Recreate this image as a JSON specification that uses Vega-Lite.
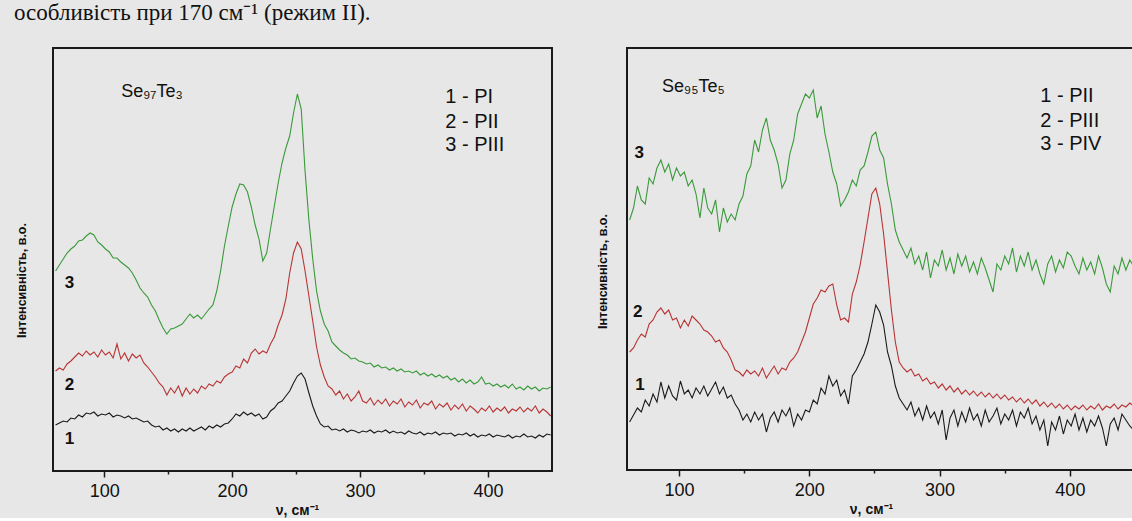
{
"$schema": "https://vega.github.io/schema/vega-lite/v6.json",
"background": "#e7e7e7",
"padding": {"left": 14, "top": 2, "right": 0, "bottom": 0},
"title": {"text": "особливість при 170 см⁻¹ (режим II).", "anchor": "start", "font": "Liberation Serif", "fontSize": 23, "fontWeight": "normal", "color": "#111111", "dx": 0, "offset": 22},
"spacing": 41,
"config": {"view": {"stroke": "#1a1a1a", "strokeWidth": 2}},
"datasets": {
"a": [
{"x":62,"y":46,"s":"1"},{"x":65,"y":48,"s":"1"},{"x":68,"y":50,"s":"1"},{"x":71,"y":49,"s":"1"},{"x":74,"y":53,"s":"1"},{"x":77,"y":52,"s":"1"},{"x":80,"y":56,"s":"1"},{"x":83,"y":54,"s":"1"},{"x":86,"y":58,"s":"1"},{"x":89,"y":57,"s":"1"},{"x":92,"y":59,"s":"1"},{"x":95,"y":55,"s":"1"},{"x":98,"y":57,"s":"1"},{"x":101,"y":56,"s":"1"},{"x":104,"y":58,"s":"1"},{"x":107,"y":54,"s":"1"},{"x":110,"y":56,"s":"1"},{"x":113,"y":55,"s":"1"},{"x":116,"y":53,"s":"1"},{"x":119,"y":55,"s":"1"},{"x":122,"y":52,"s":"1"},{"x":125,"y":53,"s":"1"},{"x":128,"y":51,"s":"1"},{"x":131,"y":49,"s":"1"},{"x":134,"y":50,"s":"1"},{"x":137,"y":46,"s":"1"},{"x":140,"y":44,"s":"1"},{"x":143,"y":45,"s":"1"},{"x":146,"y":41,"s":"1"},{"x":149,"y":43,"s":"1"},{"x":152,"y":40,"s":"1"},{"x":155,"y":42,"s":"1"},{"x":158,"y":39,"s":"1"},{"x":161,"y":42,"s":"1"},{"x":164,"y":40,"s":"1"},{"x":167,"y":43,"s":"1"},{"x":170,"y":40,"s":"1"},{"x":173,"y":42,"s":"1"},{"x":176,"y":44,"s":"1"},{"x":179,"y":41,"s":"1"},{"x":182,"y":45,"s":"1"},{"x":185,"y":43,"s":"1"},{"x":188,"y":46,"s":"1"},{"x":191,"y":44,"s":"1"},{"x":194,"y":47,"s":"1"},{"x":197,"y":48,"s":"1"},{"x":200,"y":52,"s":"1"},{"x":203,"y":57,"s":"1"},{"x":206,"y":55,"s":"1"},{"x":209,"y":59,"s":"1"},{"x":212,"y":56,"s":"1"},{"x":215,"y":58,"s":"1"},{"x":218,"y":55,"s":"1"},{"x":221,"y":57,"s":"1"},{"x":224,"y":52,"s":"1"},{"x":227,"y":54,"s":"1"},{"x":230,"y":60,"s":"1"},{"x":233,"y":63,"s":"1"},{"x":236,"y":68,"s":"1"},{"x":239,"y":70,"s":"1"},{"x":242,"y":75,"s":"1"},{"x":245,"y":80,"s":"1"},{"x":248,"y":88,"s":"1"},{"x":251,"y":95,"s":"1"},{"x":254,"y":98,"s":"1"},{"x":257,"y":92,"s":"1"},{"x":260,"y":78,"s":"1"},{"x":263,"y":65,"s":"1"},{"x":266,"y":55,"s":"1"},{"x":269,"y":47,"s":"1"},{"x":272,"y":44,"s":"1"},{"x":275,"y":45,"s":"1"},{"x":278,"y":41,"s":"1"},{"x":281,"y":42,"s":"1"},{"x":284,"y":40,"s":"1"},{"x":287,"y":42,"s":"1"},{"x":290,"y":39,"s":"1"},{"x":293,"y":41,"s":"1"},{"x":296,"y":40,"s":"1"},{"x":299,"y":38,"s":"1"},{"x":302,"y":40,"s":"1"},{"x":305,"y":39,"s":"1"},{"x":308,"y":41,"s":"1"},{"x":311,"y":38,"s":"1"},{"x":314,"y":40,"s":"1"},{"x":317,"y":39,"s":"1"},{"x":320,"y":41,"s":"1"},{"x":323,"y":38,"s":"1"},{"x":326,"y":40,"s":"1"},{"x":329,"y":38,"s":"1"},{"x":332,"y":39,"s":"1"},{"x":335,"y":37,"s":"1"},{"x":338,"y":40,"s":"1"},{"x":341,"y":38,"s":"1"},{"x":344,"y":37,"s":"1"},{"x":347,"y":39,"s":"1"},{"x":350,"y":36,"s":"1"},{"x":353,"y":38,"s":"1"},{"x":356,"y":37,"s":"1"},{"x":359,"y":39,"s":"1"},{"x":362,"y":36,"s":"1"},{"x":365,"y":38,"s":"1"},{"x":368,"y":37,"s":"1"},{"x":371,"y":38,"s":"1"},{"x":374,"y":35,"s":"1"},{"x":377,"y":37,"s":"1"},{"x":380,"y":36,"s":"1"},{"x":383,"y":38,"s":"1"},{"x":386,"y":35,"s":"1"},{"x":389,"y":37,"s":"1"},{"x":392,"y":34,"s":"1"},{"x":395,"y":36,"s":"1"},{"x":398,"y":35,"s":"1"},{"x":401,"y":37,"s":"1"},{"x":404,"y":34,"s":"1"},{"x":407,"y":36,"s":"1"},{"x":410,"y":35,"s":"1"},{"x":413,"y":34,"s":"1"},{"x":416,"y":36,"s":"1"},{"x":419,"y":33,"s":"1"},{"x":422,"y":35,"s":"1"},{"x":425,"y":34,"s":"1"},{"x":428,"y":37,"s":"1"},{"x":431,"y":34,"s":"1"},{"x":434,"y":35,"s":"1"},{"x":437,"y":33,"s":"1"},{"x":440,"y":36,"s":"1"},{"x":443,"y":34,"s":"1"},{"x":446,"y":37,"s":"1"},{"x":449,"y":36,"s":"1"},
{"x":62,"y":100,"s":"2"},{"x":65,"y":103,"s":"2"},{"x":68,"y":101,"s":"2"},{"x":71,"y":107,"s":"2"},{"x":74,"y":110,"s":"2"},{"x":77,"y":114,"s":"2"},{"x":80,"y":118,"s":"2"},{"x":83,"y":115,"s":"2"},{"x":86,"y":120,"s":"2"},{"x":89,"y":116,"s":"2"},{"x":92,"y":119,"s":"2"},{"x":95,"y":114,"s":"2"},{"x":98,"y":121,"s":"2"},{"x":101,"y":116,"s":"2"},{"x":104,"y":119,"s":"2"},{"x":107,"y":113,"s":"2"},{"x":110,"y":127,"s":"2"},{"x":113,"y":112,"s":"2"},{"x":116,"y":118,"s":"2"},{"x":119,"y":110,"s":"2"},{"x":122,"y":117,"s":"2"},{"x":125,"y":113,"s":"2"},{"x":128,"y":116,"s":"2"},{"x":131,"y":108,"s":"2"},{"x":134,"y":104,"s":"2"},{"x":137,"y":99,"s":"2"},{"x":140,"y":94,"s":"2"},{"x":143,"y":88,"s":"2"},{"x":146,"y":84,"s":"2"},{"x":149,"y":76,"s":"2"},{"x":152,"y":83,"s":"2"},{"x":155,"y":78,"s":"2"},{"x":158,"y":85,"s":"2"},{"x":161,"y":75,"s":"2"},{"x":164,"y":83,"s":"2"},{"x":167,"y":77,"s":"2"},{"x":170,"y":82,"s":"2"},{"x":173,"y":78,"s":"2"},{"x":176,"y":85,"s":"2"},{"x":179,"y":82,"s":"2"},{"x":182,"y":87,"s":"2"},{"x":185,"y":85,"s":"2"},{"x":188,"y":90,"s":"2"},{"x":191,"y":88,"s":"2"},{"x":194,"y":94,"s":"2"},{"x":197,"y":97,"s":"2"},{"x":200,"y":99,"s":"2"},{"x":203,"y":105,"s":"2"},{"x":206,"y":103,"s":"2"},{"x":209,"y":112,"s":"2"},{"x":212,"y":108,"s":"2"},{"x":215,"y":118,"s":"2"},{"x":218,"y":122,"s":"2"},{"x":221,"y":117,"s":"2"},{"x":224,"y":120,"s":"2"},{"x":227,"y":118,"s":"2"},{"x":230,"y":127,"s":"2"},{"x":233,"y":134,"s":"2"},{"x":236,"y":146,"s":"2"},{"x":239,"y":156,"s":"2"},{"x":242,"y":172,"s":"2"},{"x":245,"y":198,"s":"2"},{"x":248,"y":218,"s":"2"},{"x":251,"y":229,"s":"2"},{"x":254,"y":222,"s":"2"},{"x":257,"y":200,"s":"2"},{"x":260,"y":175,"s":"2"},{"x":263,"y":150,"s":"2"},{"x":266,"y":124,"s":"2"},{"x":269,"y":106,"s":"2"},{"x":272,"y":94,"s":"2"},{"x":275,"y":85,"s":"2"},{"x":278,"y":82,"s":"2"},{"x":281,"y":76,"s":"2"},{"x":284,"y":80,"s":"2"},{"x":287,"y":72,"s":"2"},{"x":290,"y":77,"s":"2"},{"x":293,"y":70,"s":"2"},{"x":296,"y":74,"s":"2"},{"x":299,"y":80,"s":"2"},{"x":302,"y":70,"s":"2"},{"x":305,"y":68,"s":"2"},{"x":308,"y":73,"s":"2"},{"x":311,"y":66,"s":"2"},{"x":314,"y":71,"s":"2"},{"x":317,"y":67,"s":"2"},{"x":320,"y":72,"s":"2"},{"x":323,"y":65,"s":"2"},{"x":326,"y":70,"s":"2"},{"x":329,"y":67,"s":"2"},{"x":332,"y":72,"s":"2"},{"x":335,"y":64,"s":"2"},{"x":338,"y":69,"s":"2"},{"x":341,"y":66,"s":"2"},{"x":344,"y":71,"s":"2"},{"x":347,"y":63,"s":"2"},{"x":350,"y":68,"s":"2"},{"x":353,"y":66,"s":"2"},{"x":356,"y":70,"s":"2"},{"x":359,"y":62,"s":"2"},{"x":362,"y":67,"s":"2"},{"x":365,"y":64,"s":"2"},{"x":368,"y":68,"s":"2"},{"x":371,"y":61,"s":"2"},{"x":374,"y":66,"s":"2"},{"x":377,"y":62,"s":"2"},{"x":380,"y":67,"s":"2"},{"x":383,"y":60,"s":"2"},{"x":386,"y":65,"s":"2"},{"x":389,"y":62,"s":"2"},{"x":392,"y":58,"s":"2"},{"x":395,"y":63,"s":"2"},{"x":398,"y":60,"s":"2"},{"x":401,"y":65,"s":"2"},{"x":404,"y":59,"s":"2"},{"x":407,"y":63,"s":"2"},{"x":410,"y":60,"s":"2"},{"x":413,"y":64,"s":"2"},{"x":416,"y":58,"s":"2"},{"x":419,"y":62,"s":"2"},{"x":422,"y":60,"s":"2"},{"x":425,"y":64,"s":"2"},{"x":428,"y":59,"s":"2"},{"x":431,"y":63,"s":"2"},{"x":434,"y":60,"s":"2"},{"x":437,"y":65,"s":"2"},{"x":440,"y":58,"s":"2"},{"x":443,"y":62,"s":"2"},{"x":446,"y":59,"s":"2"},{"x":449,"y":55,"s":"2"},
{"x":62,"y":200,"s":"3"},{"x":65,"y":206,"s":"3"},{"x":68,"y":212,"s":"3"},{"x":71,"y":218,"s":"3"},{"x":74,"y":222,"s":"3"},{"x":77,"y":225,"s":"3"},{"x":80,"y":230,"s":"3"},{"x":83,"y":231,"s":"3"},{"x":86,"y":235,"s":"3"},{"x":89,"y":238,"s":"3"},{"x":92,"y":236,"s":"3"},{"x":95,"y":229,"s":"3"},{"x":98,"y":226,"s":"3"},{"x":101,"y":222,"s":"3"},{"x":104,"y":219,"s":"3"},{"x":107,"y":213,"s":"3"},{"x":110,"y":213,"s":"3"},{"x":113,"y":209,"s":"3"},{"x":116,"y":206,"s":"3"},{"x":119,"y":203,"s":"3"},{"x":122,"y":198,"s":"3"},{"x":125,"y":191,"s":"3"},{"x":128,"y":183,"s":"3"},{"x":131,"y":178,"s":"3"},{"x":134,"y":174,"s":"3"},{"x":137,"y":166,"s":"3"},{"x":140,"y":160,"s":"3"},{"x":143,"y":151,"s":"3"},{"x":146,"y":143,"s":"3"},{"x":149,"y":137,"s":"3"},{"x":152,"y":142,"s":"3"},{"x":155,"y":143,"s":"3"},{"x":158,"y":145,"s":"3"},{"x":161,"y":147,"s":"3"},{"x":164,"y":152,"s":"3"},{"x":167,"y":157,"s":"3"},{"x":170,"y":153,"s":"3"},{"x":173,"y":156,"s":"3"},{"x":176,"y":152,"s":"3"},{"x":179,"y":157,"s":"3"},{"x":182,"y":162,"s":"3"},{"x":185,"y":166,"s":"3"},{"x":188,"y":180,"s":"3"},{"x":191,"y":200,"s":"3"},{"x":194,"y":225,"s":"3"},{"x":197,"y":245,"s":"3"},{"x":200,"y":264,"s":"3"},{"x":203,"y":277,"s":"3"},{"x":206,"y":287,"s":"3"},{"x":209,"y":286,"s":"3"},{"x":212,"y":279,"s":"3"},{"x":215,"y":264,"s":"3"},{"x":218,"y":246,"s":"3"},{"x":221,"y":232,"s":"3"},{"x":224,"y":210,"s":"3"},{"x":227,"y":218,"s":"3"},{"x":230,"y":242,"s":"3"},{"x":233,"y":265,"s":"3"},{"x":236,"y":288,"s":"3"},{"x":239,"y":308,"s":"3"},{"x":242,"y":323,"s":"3"},{"x":245,"y":335,"s":"3"},{"x":248,"y":358,"s":"3"},{"x":251,"y":377,"s":"3"},{"x":254,"y":362,"s":"3"},{"x":257,"y":300,"s":"3"},{"x":260,"y":251,"s":"3"},{"x":263,"y":212,"s":"3"},{"x":266,"y":180,"s":"3"},{"x":269,"y":160,"s":"3"},{"x":272,"y":147,"s":"3"},{"x":275,"y":140,"s":"3"},{"x":278,"y":129,"s":"3"},{"x":281,"y":125,"s":"3"},{"x":284,"y":121,"s":"3"},{"x":287,"y":118,"s":"3"},{"x":290,"y":116,"s":"3"},{"x":293,"y":112,"s":"3"},{"x":296,"y":113,"s":"3"},{"x":299,"y":110,"s":"3"},{"x":302,"y":109,"s":"3"},{"x":305,"y":107,"s":"3"},{"x":308,"y":108,"s":"3"},{"x":311,"y":104,"s":"3"},{"x":314,"y":106,"s":"3"},{"x":317,"y":103,"s":"3"},{"x":320,"y":104,"s":"3"},{"x":323,"y":101,"s":"3"},{"x":326,"y":103,"s":"3"},{"x":329,"y":100,"s":"3"},{"x":332,"y":102,"s":"3"},{"x":335,"y":99,"s":"3"},{"x":338,"y":100,"s":"3"},{"x":341,"y":98,"s":"3"},{"x":344,"y":100,"s":"3"},{"x":347,"y":96,"s":"3"},{"x":350,"y":98,"s":"3"},{"x":353,"y":95,"s":"3"},{"x":356,"y":97,"s":"3"},{"x":359,"y":94,"s":"3"},{"x":362,"y":96,"s":"3"},{"x":365,"y":93,"s":"3"},{"x":368,"y":95,"s":"3"},{"x":371,"y":91,"s":"3"},{"x":374,"y":93,"s":"3"},{"x":377,"y":89,"s":"3"},{"x":380,"y":92,"s":"3"},{"x":383,"y":88,"s":"3"},{"x":386,"y":91,"s":"3"},{"x":389,"y":87,"s":"3"},{"x":392,"y":89,"s":"3"},{"x":395,"y":94,"s":"3"},{"x":398,"y":87,"s":"3"},{"x":401,"y":88,"s":"3"},{"x":404,"y":85,"s":"3"},{"x":407,"y":87,"s":"3"},{"x":410,"y":84,"s":"3"},{"x":413,"y":86,"s":"3"},{"x":416,"y":83,"s":"3"},{"x":419,"y":87,"s":"3"},{"x":422,"y":82,"s":"3"},{"x":425,"y":84,"s":"3"},{"x":428,"y":81,"s":"3"},{"x":431,"y":85,"s":"3"},{"x":434,"y":82,"s":"3"},{"x":437,"y":84,"s":"3"},{"x":440,"y":80,"s":"3"},{"x":443,"y":83,"s":"3"},{"x":446,"y":82,"s":"3"},{"x":449,"y":84,"s":"3"}
],
"b": [
{"x":62,"y":48,"s":"1"},{"x":65,"y":55,"s":"1"},{"x":68,"y":62,"s":"1"},{"x":71,"y":58,"s":"1"},{"x":74,"y":70,"s":"1"},{"x":77,"y":64,"s":"1"},{"x":80,"y":76,"s":"1"},{"x":83,"y":68,"s":"1"},{"x":86,"y":88,"s":"1"},{"x":89,"y":72,"s":"1"},{"x":92,"y":84,"s":"1"},{"x":95,"y":74,"s":"1"},{"x":98,"y":70,"s":"1"},{"x":101,"y":89,"s":"1"},{"x":104,"y":76,"s":"1"},{"x":107,"y":80,"s":"1"},{"x":110,"y":72,"s":"1"},{"x":113,"y":82,"s":"1"},{"x":116,"y":76,"s":"1"},{"x":119,"y":84,"s":"1"},{"x":122,"y":74,"s":"1"},{"x":125,"y":81,"s":"1"},{"x":128,"y":88,"s":"1"},{"x":131,"y":76,"s":"1"},{"x":134,"y":83,"s":"1"},{"x":137,"y":72,"s":"1"},{"x":140,"y":75,"s":"1"},{"x":143,"y":66,"s":"1"},{"x":146,"y":60,"s":"1"},{"x":149,"y":50,"s":"1"},{"x":152,"y":56,"s":"1"},{"x":155,"y":48,"s":"1"},{"x":158,"y":58,"s":"1"},{"x":161,"y":50,"s":"1"},{"x":164,"y":56,"s":"1"},{"x":167,"y":38,"s":"1"},{"x":170,"y":52,"s":"1"},{"x":173,"y":58,"s":"1"},{"x":176,"y":48,"s":"1"},{"x":179,"y":60,"s":"1"},{"x":182,"y":54,"s":"1"},{"x":185,"y":62,"s":"1"},{"x":188,"y":44,"s":"1"},{"x":191,"y":56,"s":"1"},{"x":194,"y":50,"s":"1"},{"x":197,"y":60,"s":"1"},{"x":200,"y":58,"s":"1"},{"x":203,"y":70,"s":"1"},{"x":206,"y":66,"s":"1"},{"x":209,"y":82,"s":"1"},{"x":212,"y":76,"s":"1"},{"x":215,"y":94,"s":"1"},{"x":218,"y":84,"s":"1"},{"x":221,"y":90,"s":"1"},{"x":224,"y":74,"s":"1"},{"x":227,"y":80,"s":"1"},{"x":230,"y":66,"s":"1"},{"x":233,"y":94,"s":"1"},{"x":236,"y":100,"s":"1"},{"x":239,"y":108,"s":"1"},{"x":242,"y":116,"s":"1"},{"x":245,"y":128,"s":"1"},{"x":248,"y":146,"s":"1"},{"x":251,"y":165,"s":"1"},{"x":254,"y":158,"s":"1"},{"x":257,"y":145,"s":"1"},{"x":260,"y":118,"s":"1"},{"x":263,"y":104,"s":"1"},{"x":266,"y":84,"s":"1"},{"x":269,"y":72,"s":"1"},{"x":272,"y":66,"s":"1"},{"x":275,"y":60,"s":"1"},{"x":278,"y":68,"s":"1"},{"x":281,"y":54,"s":"1"},{"x":284,"y":62,"s":"1"},{"x":287,"y":50,"s":"1"},{"x":290,"y":64,"s":"1"},{"x":293,"y":52,"s":"1"},{"x":296,"y":58,"s":"1"},{"x":299,"y":46,"s":"1"},{"x":302,"y":60,"s":"1"},{"x":305,"y":30,"s":"1"},{"x":308,"y":52,"s":"1"},{"x":311,"y":60,"s":"1"},{"x":314,"y":44,"s":"1"},{"x":317,"y":58,"s":"1"},{"x":320,"y":48,"s":"1"},{"x":323,"y":62,"s":"1"},{"x":326,"y":50,"s":"1"},{"x":329,"y":56,"s":"1"},{"x":332,"y":44,"s":"1"},{"x":335,"y":60,"s":"1"},{"x":338,"y":48,"s":"1"},{"x":341,"y":54,"s":"1"},{"x":344,"y":62,"s":"1"},{"x":347,"y":46,"s":"1"},{"x":350,"y":56,"s":"1"},{"x":353,"y":50,"s":"1"},{"x":356,"y":60,"s":"1"},{"x":359,"y":44,"s":"1"},{"x":362,"y":58,"s":"1"},{"x":365,"y":52,"s":"1"},{"x":368,"y":62,"s":"1"},{"x":371,"y":46,"s":"1"},{"x":374,"y":54,"s":"1"},{"x":377,"y":40,"s":"1"},{"x":380,"y":50,"s":"1"},{"x":383,"y":24,"s":"1"},{"x":386,"y":48,"s":"1"},{"x":389,"y":40,"s":"1"},{"x":392,"y":54,"s":"1"},{"x":395,"y":36,"s":"1"},{"x":398,"y":50,"s":"1"},{"x":401,"y":44,"s":"1"},{"x":404,"y":56,"s":"1"},{"x":407,"y":40,"s":"1"},{"x":410,"y":52,"s":"1"},{"x":413,"y":38,"s":"1"},{"x":416,"y":50,"s":"1"},{"x":419,"y":44,"s":"1"},{"x":422,"y":54,"s":"1"},{"x":425,"y":42,"s":"1"},{"x":428,"y":24,"s":"1"},{"x":431,"y":46,"s":"1"},{"x":434,"y":52,"s":"1"},{"x":437,"y":40,"s":"1"},{"x":440,"y":56,"s":"1"},{"x":443,"y":50,"s":"1"},{"x":446,"y":44,"s":"1"},{"x":449,"y":40,"s":"1"},
{"x":62,"y":118,"s":"2"},{"x":65,"y":122,"s":"2"},{"x":68,"y":130,"s":"2"},{"x":71,"y":136,"s":"2"},{"x":74,"y":133,"s":"2"},{"x":77,"y":146,"s":"2"},{"x":80,"y":150,"s":"2"},{"x":83,"y":158,"s":"2"},{"x":86,"y":162,"s":"2"},{"x":89,"y":156,"s":"2"},{"x":92,"y":160,"s":"2"},{"x":95,"y":150,"s":"2"},{"x":98,"y":152,"s":"2"},{"x":101,"y":142,"s":"2"},{"x":104,"y":150,"s":"2"},{"x":107,"y":144,"s":"2"},{"x":110,"y":154,"s":"2"},{"x":113,"y":150,"s":"2"},{"x":116,"y":146,"s":"2"},{"x":119,"y":140,"s":"2"},{"x":122,"y":138,"s":"2"},{"x":125,"y":134,"s":"2"},{"x":128,"y":128,"s":"2"},{"x":131,"y":130,"s":"2"},{"x":134,"y":122,"s":"2"},{"x":137,"y":118,"s":"2"},{"x":140,"y":110,"s":"2"},{"x":143,"y":100,"s":"2"},{"x":146,"y":98,"s":"2"},{"x":149,"y":94,"s":"2"},{"x":152,"y":100,"s":"2"},{"x":155,"y":96,"s":"2"},{"x":158,"y":99,"s":"2"},{"x":161,"y":94,"s":"2"},{"x":164,"y":102,"s":"2"},{"x":167,"y":92,"s":"2"},{"x":170,"y":98,"s":"2"},{"x":173,"y":104,"s":"2"},{"x":176,"y":96,"s":"2"},{"x":179,"y":102,"s":"2"},{"x":182,"y":100,"s":"2"},{"x":185,"y":108,"s":"2"},{"x":188,"y":112,"s":"2"},{"x":191,"y":118,"s":"2"},{"x":194,"y":128,"s":"2"},{"x":197,"y":138,"s":"2"},{"x":200,"y":152,"s":"2"},{"x":203,"y":166,"s":"2"},{"x":206,"y":172,"s":"2"},{"x":209,"y":180,"s":"2"},{"x":212,"y":178,"s":"2"},{"x":215,"y":184,"s":"2"},{"x":218,"y":186,"s":"2"},{"x":221,"y":165,"s":"2"},{"x":224,"y":150,"s":"2"},{"x":227,"y":152,"s":"2"},{"x":230,"y":148,"s":"2"},{"x":233,"y":176,"s":"2"},{"x":236,"y":188,"s":"2"},{"x":239,"y":205,"s":"2"},{"x":242,"y":228,"s":"2"},{"x":245,"y":252,"s":"2"},{"x":248,"y":276,"s":"2"},{"x":251,"y":282,"s":"2"},{"x":254,"y":266,"s":"2"},{"x":257,"y":236,"s":"2"},{"x":260,"y":198,"s":"2"},{"x":263,"y":160,"s":"2"},{"x":266,"y":128,"s":"2"},{"x":269,"y":108,"s":"2"},{"x":272,"y":102,"s":"2"},{"x":275,"y":98,"s":"2"},{"x":278,"y":101,"s":"2"},{"x":281,"y":94,"s":"2"},{"x":284,"y":96,"s":"2"},{"x":287,"y":89,"s":"2"},{"x":290,"y":92,"s":"2"},{"x":293,"y":86,"s":"2"},{"x":296,"y":88,"s":"2"},{"x":299,"y":82,"s":"2"},{"x":302,"y":86,"s":"2"},{"x":305,"y":80,"s":"2"},{"x":308,"y":84,"s":"2"},{"x":311,"y":78,"s":"2"},{"x":314,"y":82,"s":"2"},{"x":317,"y":76,"s":"2"},{"x":320,"y":80,"s":"2"},{"x":323,"y":75,"s":"2"},{"x":326,"y":79,"s":"2"},{"x":329,"y":74,"s":"2"},{"x":332,"y":78,"s":"2"},{"x":335,"y":73,"s":"2"},{"x":338,"y":77,"s":"2"},{"x":341,"y":72,"s":"2"},{"x":344,"y":76,"s":"2"},{"x":347,"y":71,"s":"2"},{"x":350,"y":75,"s":"2"},{"x":353,"y":70,"s":"2"},{"x":356,"y":73,"s":"2"},{"x":359,"y":68,"s":"2"},{"x":362,"y":72,"s":"2"},{"x":365,"y":67,"s":"2"},{"x":368,"y":71,"s":"2"},{"x":371,"y":66,"s":"2"},{"x":374,"y":70,"s":"2"},{"x":377,"y":64,"s":"2"},{"x":380,"y":68,"s":"2"},{"x":383,"y":63,"s":"2"},{"x":386,"y":67,"s":"2"},{"x":389,"y":62,"s":"2"},{"x":392,"y":66,"s":"2"},{"x":395,"y":61,"s":"2"},{"x":398,"y":65,"s":"2"},{"x":401,"y":60,"s":"2"},{"x":404,"y":64,"s":"2"},{"x":407,"y":61,"s":"2"},{"x":410,"y":65,"s":"2"},{"x":413,"y":60,"s":"2"},{"x":416,"y":64,"s":"2"},{"x":419,"y":61,"s":"2"},{"x":422,"y":66,"s":"2"},{"x":425,"y":60,"s":"2"},{"x":428,"y":64,"s":"2"},{"x":431,"y":62,"s":"2"},{"x":434,"y":66,"s":"2"},{"x":437,"y":61,"s":"2"},{"x":440,"y":65,"s":"2"},{"x":443,"y":63,"s":"2"},{"x":446,"y":67,"s":"2"},{"x":449,"y":64,"s":"2"},
{"x":62,"y":250,"s":"3"},{"x":65,"y":262,"s":"3"},{"x":68,"y":284,"s":"3"},{"x":71,"y":270,"s":"3"},{"x":74,"y":266,"s":"3"},{"x":77,"y":292,"s":"3"},{"x":80,"y":286,"s":"3"},{"x":83,"y":302,"s":"3"},{"x":86,"y":310,"s":"3"},{"x":89,"y":298,"s":"3"},{"x":92,"y":306,"s":"3"},{"x":95,"y":290,"s":"3"},{"x":98,"y":302,"s":"3"},{"x":101,"y":294,"s":"3"},{"x":104,"y":298,"s":"3"},{"x":107,"y":284,"s":"3"},{"x":110,"y":290,"s":"3"},{"x":113,"y":276,"s":"3"},{"x":116,"y":252,"s":"3"},{"x":119,"y":282,"s":"3"},{"x":122,"y":262,"s":"3"},{"x":125,"y":256,"s":"3"},{"x":128,"y":270,"s":"3"},{"x":131,"y":238,"s":"3"},{"x":134,"y":262,"s":"3"},{"x":137,"y":248,"s":"3"},{"x":140,"y":256,"s":"3"},{"x":143,"y":250,"s":"3"},{"x":146,"y":266,"s":"3"},{"x":149,"y":274,"s":"3"},{"x":152,"y":296,"s":"3"},{"x":155,"y":304,"s":"3"},{"x":158,"y":330,"s":"3"},{"x":161,"y":318,"s":"3"},{"x":164,"y":340,"s":"3"},{"x":167,"y":352,"s":"3"},{"x":170,"y":330,"s":"3"},{"x":173,"y":320,"s":"3"},{"x":176,"y":306,"s":"3"},{"x":179,"y":282,"s":"3"},{"x":182,"y":290,"s":"3"},{"x":185,"y":316,"s":"3"},{"x":188,"y":330,"s":"3"},{"x":191,"y":356,"s":"3"},{"x":194,"y":366,"s":"3"},{"x":197,"y":376,"s":"3"},{"x":200,"y":372,"s":"3"},{"x":203,"y":380,"s":"3"},{"x":206,"y":352,"s":"3"},{"x":209,"y":364,"s":"3"},{"x":212,"y":336,"s":"3"},{"x":215,"y":318,"s":"3"},{"x":218,"y":298,"s":"3"},{"x":221,"y":286,"s":"3"},{"x":224,"y":264,"s":"3"},{"x":227,"y":270,"s":"3"},{"x":230,"y":278,"s":"3"},{"x":233,"y":290,"s":"3"},{"x":236,"y":284,"s":"3"},{"x":239,"y":300,"s":"3"},{"x":242,"y":304,"s":"3"},{"x":245,"y":318,"s":"3"},{"x":248,"y":334,"s":"3"},{"x":251,"y":338,"s":"3"},{"x":254,"y":320,"s":"3"},{"x":257,"y":312,"s":"3"},{"x":260,"y":286,"s":"3"},{"x":263,"y":266,"s":"3"},{"x":266,"y":240,"s":"3"},{"x":269,"y":228,"s":"3"},{"x":272,"y":220,"s":"3"},{"x":275,"y":212,"s":"3"},{"x":278,"y":222,"s":"3"},{"x":281,"y":206,"s":"3"},{"x":284,"y":214,"s":"3"},{"x":287,"y":200,"s":"3"},{"x":290,"y":218,"s":"3"},{"x":293,"y":192,"s":"3"},{"x":296,"y":210,"s":"3"},{"x":299,"y":204,"s":"3"},{"x":302,"y":220,"s":"3"},{"x":305,"y":200,"s":"3"},{"x":308,"y":212,"s":"3"},{"x":311,"y":196,"s":"3"},{"x":314,"y":216,"s":"3"},{"x":317,"y":204,"s":"3"},{"x":320,"y":214,"s":"3"},{"x":323,"y":198,"s":"3"},{"x":326,"y":208,"s":"3"},{"x":329,"y":196,"s":"3"},{"x":332,"y":212,"s":"3"},{"x":335,"y":202,"s":"3"},{"x":338,"y":190,"s":"3"},{"x":341,"y":178,"s":"3"},{"x":344,"y":206,"s":"3"},{"x":347,"y":200,"s":"3"},{"x":350,"y":214,"s":"3"},{"x":353,"y":206,"s":"3"},{"x":356,"y":222,"s":"3"},{"x":359,"y":198,"s":"3"},{"x":362,"y":214,"s":"3"},{"x":365,"y":204,"s":"3"},{"x":368,"y":218,"s":"3"},{"x":371,"y":200,"s":"3"},{"x":374,"y":210,"s":"3"},{"x":377,"y":196,"s":"3"},{"x":380,"y":186,"s":"3"},{"x":383,"y":206,"s":"3"},{"x":386,"y":214,"s":"3"},{"x":389,"y":198,"s":"3"},{"x":392,"y":210,"s":"3"},{"x":395,"y":202,"s":"3"},{"x":398,"y":218,"s":"3"},{"x":401,"y":214,"s":"3"},{"x":404,"y":204,"s":"3"},{"x":407,"y":196,"s":"3"},{"x":410,"y":212,"s":"3"},{"x":413,"y":200,"s":"3"},{"x":416,"y":208,"s":"3"},{"x":419,"y":196,"s":"3"},{"x":422,"y":214,"s":"3"},{"x":425,"y":202,"s":"3"},{"x":428,"y":186,"s":"3"},{"x":431,"y":178,"s":"3"},{"x":434,"y":204,"s":"3"},{"x":437,"y":196,"s":"3"},{"x":440,"y":212,"s":"3"},{"x":443,"y":200,"s":"3"},{"x":446,"y":210,"s":"3"},{"x":449,"y":204,"s":"3"}
],
"na": [{"x":113.3,"y":379,"t":"Se₉₇Te₃"}],
"ka": [{"x":366.6,"y":374,"t":"1 - PI"},{"x":366.6,"y":349,"t":"2 - PII"},{"x":366.6,"y":326,"t":"3 - PIII"}],
"ca": [{"x":72.8,"y":188,"t":"3"},{"x":72.8,"y":86,"t":"2"},{"x":72.8,"y":32,"t":"1"}],
"nb": [{"x":86.9,"y":383,"t":"Se₉₅Te₅"}],
"kb": [{"x":377.3,"y":374,"t":"1 - PII"},{"x":377.3,"y":349,"t":"2 - PIII"},{"x":377.3,"y":326,"t":"3 - PIV"}],
"cb": [{"x":69.3,"y":317,"t":"3"},{"x":68.3,"y":158,"t":"2"},{"x":70,"y":85,"t":"1"}]
},
"hconcat": [
{
"width": 499, "height": 423,
"encoding": {
"x": {"field": "x", "type": "quantitative", "scale": {"domain": [60, 450], "nice": false, "zero": false},
 "axis": {"values": [100,150,200,250,300,350,400], "labelExpr": "datum.value % 100 === 0 ? datum.label : ''", "tickSize": {"condition": {"test": "datum.value % 100 === 0", "value": 6}, "value": 3}, "tickWidth": 1.5, "tickColor": "#1a1a1a", "domain": false, "grid": false, "labelFont": "Liberation Sans", "labelFontSize": 18, "labelColor": "#111111", "labelPadding": 5, "labelFlush": false, "title": "ν, см⁻¹", "titleFont": "Liberation Sans", "titleFontSize": 14, "titleFontWeight": "bold", "titleColor": "#111111", "titlePadding": 3, "titleX": 244}},
"y": {"field": "y", "type": "quantitative", "scale": {"domain": [0, 423], "nice": false, "zero": false},
 "axis": {"title": "Інтенсивність, в.о.", "labels": false, "ticks": false, "domain": false, "grid": false, "titleFont": "Liberation Sans", "titleFontSize": 12.5, "titleFontWeight": "bold", "titleColor": "#111111", "titlePadding": 25, "titleY": 232}}
},
"layer": [
{"data": {"name": "a"}, "mark": {"type": "line", "strokeWidth": 1.1}, "encoding": {"color": {"field": "s", "type": "nominal", "scale": {"domain": ["1","2","3"], "range": ["#1a1a1a", "#b83434", "#3a9a3a"]}, "legend": null}}},
{"data": {"name": "na"}, "mark": {"type": "text", "align": "left", "baseline": "middle", "font": "Liberation Sans", "fontSize": 18, "color": "#111111"}, "encoding": {"text": {"field": "t"}}},
{"data": {"name": "ka"}, "mark": {"type": "text", "align": "left", "baseline": "middle", "font": "Liberation Sans", "fontSize": 20, "color": "#111111"}, "encoding": {"text": {"field": "t"}}},
{"data": {"name": "ca"}, "mark": {"type": "text", "align": "center", "baseline": "middle", "font": "Liberation Sans", "fontSize": 17, "fontWeight": "bold", "color": "#111111"}, "encoding": {"text": {"field": "t"}}}
]
},
{
"width": 508, "height": 422,
"encoding": {
"x": {"field": "x", "type": "quantitative", "scale": {"domain": [60, 450], "nice": false, "zero": false},
 "axis": {"values": [100,150,200,250,300,350,400], "labelExpr": "datum.value % 100 === 0 ? datum.label : ''", "tickSize": {"condition": {"test": "datum.value % 100 === 0", "value": 6}, "value": 3}, "tickWidth": 1.5, "tickColor": "#1a1a1a", "domain": false, "grid": false, "labelFont": "Liberation Sans", "labelFontSize": 18, "labelColor": "#111111", "labelPadding": 5, "labelFlush": false, "title": "ν, см⁻¹", "titleFont": "Liberation Sans", "titleFontSize": 14, "titleFontWeight": "bold", "titleColor": "#111111", "titlePadding": 3, "titleX": 244}},
"y": {"field": "y", "type": "quantitative", "scale": {"domain": [0, 422], "nice": false, "zero": false},
 "axis": {"title": "Інтенсивність, в.о.", "labels": false, "ticks": false, "domain": false, "grid": false, "titleFont": "Liberation Sans", "titleFontSize": 12.5, "titleFontWeight": "bold", "titleColor": "#111111", "titlePadding": 18, "titleY": 223}}
},
"layer": [
{"data": {"name": "b"}, "mark": {"type": "line", "strokeWidth": 1.1}, "encoding": {"color": {"field": "s", "type": "nominal", "scale": {"domain": ["1","2","3"], "range": ["#1a1a1a", "#b83434", "#3a9a3a"]}, "legend": null}}},
{"data": {"name": "nb"}, "mark": {"type": "text", "align": "left", "baseline": "middle", "font": "Liberation Sans", "fontSize": 18, "color": "#111111"}, "encoding": {"text": {"field": "t"}}},
{"data": {"name": "kb"}, "mark": {"type": "text", "align": "left", "baseline": "middle", "font": "Liberation Sans", "fontSize": 20, "color": "#111111"}, "encoding": {"text": {"field": "t"}}},
{"data": {"name": "cb"}, "mark": {"type": "text", "align": "center", "baseline": "middle", "font": "Liberation Sans", "fontSize": 17, "fontWeight": "bold", "color": "#111111"}, "encoding": {"text": {"field": "t"}}}
]
}
],
"resolve": {"scale": {"color": "independent"}}
}
